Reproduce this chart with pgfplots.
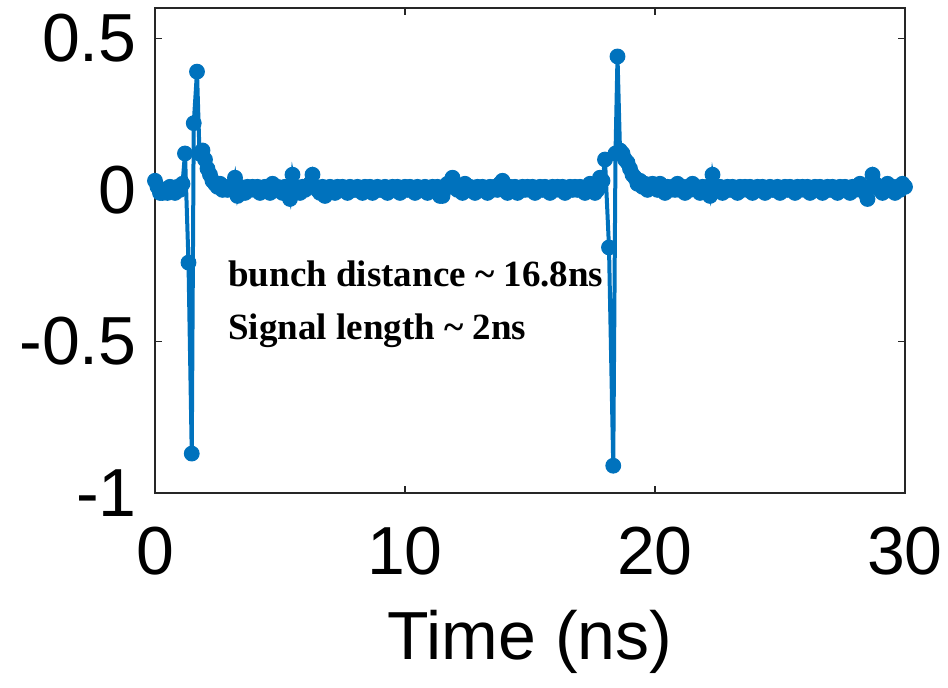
\documentclass[border=0pt]{standalone}
\usepackage{pgfplots}
\pgfplotsset{compat=1.18}
\usepackage{fontspec}
\setmainfont{Liberation Sans}
\newfontfamily\serifbf{Liberation Serif}
\definecolor{mblue}{RGB}{0,114,189}
\definecolor{axgray}{RGB}{38,38,38}
\begin{document}
\begin{tikzpicture}
\begin{axis}[
  name=ax,
  scale only axis,
  width=375pt, height=242.5pt,
  xmin=0, xmax=30, ymin=-1, ymax=0.6,
  xtick={0,10,20,30}, ytick={-1,-0.5,0,0.5},
  yticklabels={-1,-0.5,0,0.5},
  tick align=inside,
  major tick length=3.5pt,
  axis line style={axgray, line width=0.75pt},
  every tick/.style={axgray, line width=0.75pt},
  tick label style={font=\fontsize{34}{40}\selectfont, text=black},
  /pgf/number format/assume math mode=true,
  xticklabel style={anchor=base, yshift=-41pt, inner sep=0pt},
  yticklabel style={anchor=east, xshift=-9pt, inner sep=0pt},
  xlabel={Time (ns)},
  xlabel style={at={(axis description cs:0.5,0)}, anchor=base, yshift=-83.5pt, inner sep=0pt, font=\fontsize{34}{40}\selectfont},
  clip=false,
]
\addplot[color=mblue, line width=2pt, mark=*, mark size=3.7pt, mark options={fill=mblue, draw=mblue, line width=0.5pt}] coordinates {
(0.0,0.03) (0.1,0.01) (0.2,-0.01) (0.3,-0.01) (0.4,0.00) (0.5,-0.01) (0.6,0.01) (0.7,0.00) (0.8,-0.01) (0.9,0.01)
(1.0,0.00) (1.1,0.02) (1.2,0.12) (1.34,-0.24) (1.47,-0.87) (1.55,0.22) (1.68,0.39) (1.78,0.12) (1.9,0.13)
(2.0,0.10) (2.1,0.07) (2.2,0.05) (2.3,0.03) (2.4,0.02) (2.5,0.01) (2.6,0.02) (2.7,0.00) (2.8,0.01) (2.9,0.00)
(3.0,0.01) (3.1,0.00) (3.2,0.04) (3.3,-0.02) (3.4,0.01) (3.5,0.00) (3.6,-0.01) (3.7,0.01) (3.8,0.00) (3.9,0.01)
(4.0,0.00) (4.1,0.01) (4.2,-0.01) (4.3,0.00) (4.4,0.01) (4.5,0.00) (4.6,-0.01) (4.7,0.02) (4.8,0.00) (4.9,0.01)
(5.0,0.00) (5.1,-0.01) (5.2,0.01) (5.3,0.00) (5.4,-0.03) (5.5,0.05) (5.6,0.01) (5.7,0.00) (5.8,-0.01) (5.9,0.01)
(6.0,0.00) (6.1,0.01) (6.2,0.02) (6.3,0.05) (6.4,0.01) (6.5,0.00) (6.6,-0.01) (6.7,0.01) (6.8,-0.02) (6.9,0.00)
(7.0,0.01) (7.1,0.00) (7.2,-0.01) (7.3,0.01) (7.4,0.00) (7.5,0.01) (7.6,0.00) (7.7,-0.01) (7.8,0.01) (7.9,0.00)
(8.0,0.00) (8.1,0.01) (8.2,0.00) (8.3,-0.01) (8.4,0.01) (8.5,0.00) (8.6,0.01) (8.7,-0.01) (8.8,0.00) (8.9,0.01)
(9.0,0.00) (9.1,0.00) (9.2,0.01) (9.3,-0.01) (9.4,0.00) (9.5,0.01) (9.6,0.00) (9.7,0.01) (9.8,-0.01) (9.9,0.00)
(10.0,0.01) (10.1,0.00) (10.2,0.01) (10.3,0.00) (10.4,-0.01) (10.5,0.01) (10.6,0.00) (10.7,0.00) (10.8,0.01) (10.9,-0.01)
(11.0,0.00) (11.1,0.01) (11.2,0.00) (11.3,0.01) (11.4,-0.02) (11.5,-0.02) (11.6,0.01) (11.7,0.02) (11.8,0.01) (11.9,0.04)
(12.0,0.01) (12.1,0.00) (12.2,0.01) (12.3,-0.01) (12.4,0.02) (12.5,0.00) (12.6,0.01) (12.7,0.00) (12.8,-0.01) (12.9,0.01)
(13.0,0.00) (13.1,0.01) (13.2,0.00) (13.3,-0.01) (13.4,0.01) (13.5,0.00) (13.6,0.01) (13.7,0.00) (13.8,0.02) (13.9,0.03)
(14.0,0.00) (14.1,-0.01) (14.2,0.01) (14.3,0.00) (14.4,0.01) (14.5,-0.01) (14.6,0.00) (14.7,0.01) (14.8,0.00) (14.9,0.01)
(15.0,0.00) (15.1,0.01) (15.2,-0.01) (15.3,0.00) (15.4,0.01) (15.5,0.00) (15.6,0.01) (15.7,0.00) (15.8,-0.01) (15.9,0.01)
(16.0,0.00) (16.1,0.01) (16.2,0.00) (16.3,0.01) (16.4,-0.01) (16.5,0.00) (16.6,0.01) (16.7,0.00) (16.8,0.01) (16.9,0.00)
(17.0,0.01) (17.1,0.00) (17.2,-0.01) (17.3,0.01) (17.4,0.02) (17.5,0.01) (17.6,-0.01) (17.7,0.00) (17.8,0.04) (17.9,0.03)
(18.0,0.10) (18.16,-0.19) (18.33,-0.91) (18.42,0.12) (18.5,0.44) (18.6,0.13) (18.7,0.12) (18.8,0.10) (18.9,0.09)
(19.0,0.07) (19.1,0.05) (19.2,0.04) (19.3,0.02) (19.4,0.03) (19.5,0.01) (19.6,0.02) (19.7,0.00) (19.8,0.01) (19.9,0.02)
(20.0,0.01) (20.1,0.00) (20.2,0.02) (20.3,0.01) (20.4,-0.01) (20.5,0.01) (20.6,0.00) (20.7,0.01) (20.8,0.00) (20.9,0.02)
(21.0,0.00) (21.1,0.01) (21.2,-0.01) (21.3,0.01) (21.4,0.00) (21.5,0.02) (21.6,0.01) (21.7,0.00) (21.8,-0.01) (21.9,0.01)
(22.0,0.00) (22.1,0.01) (22.2,-0.02) (22.3,0.05) (22.4,0.01) (22.5,0.00) (22.6,0.01) (22.7,-0.01) (22.8,0.00) (22.9,0.01)
(23.0,0.00) (23.1,0.01) (23.2,0.00) (23.3,-0.01) (23.4,0.01) (23.5,0.00) (23.6,0.01) (23.7,0.00) (23.8,0.01) (23.9,-0.01)
(24.0,0.00) (24.1,0.01) (24.2,0.00) (24.3,0.01) (24.4,-0.01) (24.5,0.00) (24.6,0.01) (24.7,0.00) (24.8,0.00) (24.9,0.01)
(25.0,-0.01) (25.1,0.00) (25.2,0.01) (25.3,0.00) (25.4,0.01) (25.5,0.00) (25.6,-0.01) (25.7,0.01) (25.8,0.00) (25.9,0.01)
(26.0,0.00) (26.1,0.01) (26.2,-0.01) (26.3,0.00) (26.4,0.01) (26.5,0.00) (26.6,0.01) (26.7,-0.01) (26.8,0.00) (26.9,0.01)
(27.0,0.00) (27.1,0.01) (27.2,0.00) (27.3,-0.01) (27.4,0.01) (27.5,0.00) (27.6,0.01) (27.7,0.00) (27.8,-0.01) (27.9,0.01)
(28.0,0.00) (28.1,0.01) (28.2,0.02) (28.3,0.00) (28.4,-0.01) (28.5,-0.03) (28.6,0.01) (28.7,0.05) (28.8,0.02) (28.9,0.01)
(29.0,0.00) (29.1,-0.01) (29.2,0.01) (29.3,0.02) (29.4,0.00) (29.5,0.01) (29.6,-0.01) (29.7,0.01) (29.8,0.00) (29.9,0.02)
(30.0,0.01)
};
\node[anchor=base west, inner sep=0pt, font=\serifbf\bfseries\fontsize{18.5}{22}\selectfont] at (axis cs:2.92,-0.318) {bunch distance \textasciitilde{} 16.8ns};
\node[anchor=base west, inner sep=0pt, font=\serifbf\bfseries\fontsize{18.5}{22}\selectfont] at (axis cs:2.92,-0.493) {Signal length \textasciitilde{} 2ns};
\end{axis}
\pgfresetboundingbox
\path[use as bounding box] ([xshift=-77.5pt,yshift=-97.5pt]ax.south west) rectangle ([xshift=21.5pt,yshift=4pt]ax.north east);
\end{tikzpicture}
\end{document}
